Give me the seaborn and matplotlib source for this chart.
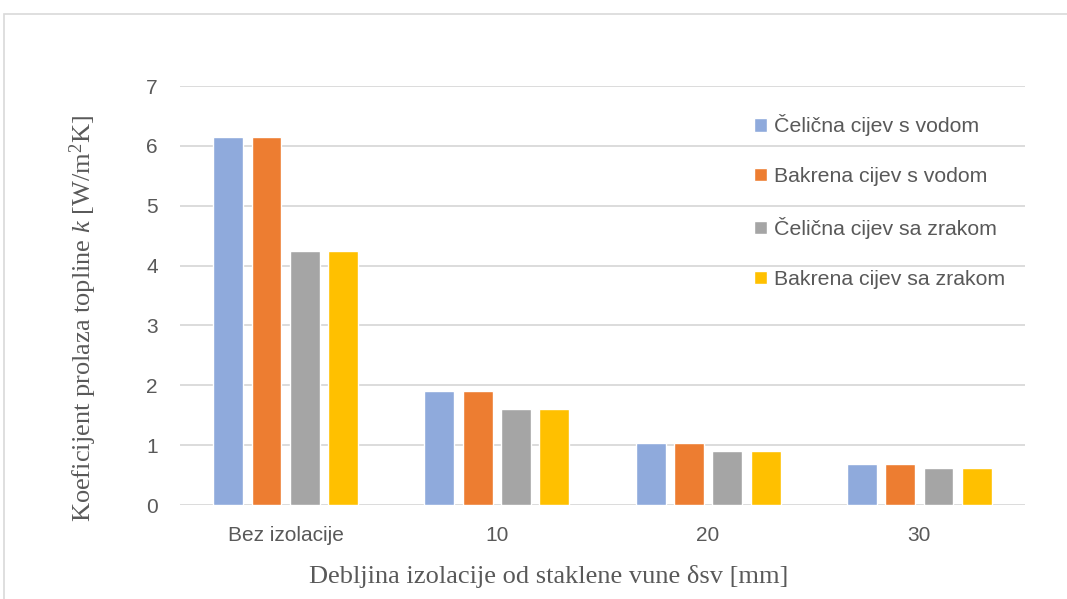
import seaborn as sns
import pandas as pd
import matplotlib.pyplot as plt
from matplotlib.patches import Rectangle

kategorije = ['Bez izolacije', '10', '20', '30']
serije = ['Čelična cijev s vodom', 'Bakrena cijev s vodom',
          'Čelična cijev sa zrakom', 'Bakrena cijev sa zrakom']
celik_voda = [6.15, 1.90, 1.04, 0.69]
bakar_voda = [6.15, 1.90, 1.04, 0.69]
celik_zrak = [4.25, 1.60, 0.91, 0.62]
bakar_zrak = [4.25, 1.60, 0.91, 0.62]
boje = ['#8FAADC', '#ED7D31', '#A5A5A5', '#FFC000']


def main():
    rows = []
    for s, vals in zip(serije, [celik_voda, bakar_voda, celik_zrak, bakar_zrak]):
        for k, v in zip(kategorije, vals):
            rows.append({'Debljina': k, 'Serija': s, 'k': v})
    df = pd.DataFrame(rows)

    sns.set_style('white')
    plt.rcParams['font.family'] = ['Liberation Sans', 'DejaVu Sans']
    plt.rcParams['mathtext.fontset'] = 'custom'
    plt.rcParams['mathtext.rm'] = 'Liberation Serif'
    plt.rcParams['mathtext.it'] = 'Liberation Serif:italic'

    fig = plt.figure(figsize=(10.67, 5.99), dpi=100)
    ax = fig.add_axes([0.1687, 0.1569, 0.7919, 0.6995])
    sns.barplot(data=df, x='Debljina', y='k', hue='Serija', order=kategorije,
                hue_order=serije, palette=boje, width=0.726, gap=0.22,
                saturation=1, ax=ax)

    ax.set_ylim(0, 7)
    ax.set_xlim(-0.5, 3.5)
    ax.set_yticks(range(8))
    ax.grid(axis='y', color='#D9D9D9', linewidth=1.3)
    ax.set_axisbelow(True)
    for sp in ax.spines.values():
        sp.set_visible(False)
    ax.tick_params(axis='both', length=0, labelsize=15, colors='#595959')
    ax.tick_params(axis='x', pad=15)
    ax.tick_params(axis='y', pad=16)

    ax.set_xlabel('Debljina izolacije od staklene vune δsv [mm]',
                  family='Liberation Serif', fontsize=19, color='#595959')
    ax.set_ylabel(r'Koeficijent prolaza topline $\mathit{k}$ [W/m$^2$K]',
                  family='Liberation Serif', fontsize=19, color='#595959')
    ax.xaxis.set_label_coords(0.4367, -0.142)
    ax.yaxis.set_label_coords(-0.096, 0.444)

    ax.legend(loc='upper left', bbox_to_anchor=(0.657, 0.978), frameon=False,
              fontsize=15.3, handlelength=0.6, handleheight=0.6,
              handletextpad=0.35, labelspacing=1.45, labelcolor='#595959')

    fig.patches.append(Rectangle((0.004, -0.1), 1.2, 0.9765 + 0.1, transform=fig.transFigure,
                                 fill=False, edgecolor='#D9D9D9', linewidth=1.2))
    fig.savefig('out.png', dpi=100)


main()
